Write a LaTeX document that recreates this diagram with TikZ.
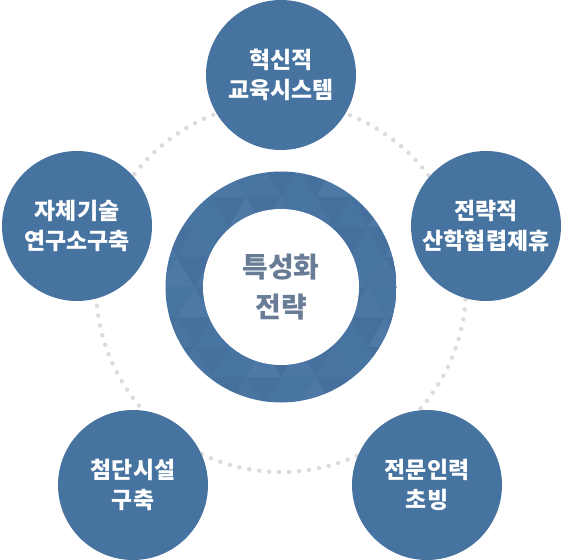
\documentclass[tikz,border=0pt]{standalone}
\usepackage{fontspec}
\setmainfont{Noto Sans CJK KR}
\usetikzlibrary{positioning}

\definecolor{satblue}{RGB}{71,115,160}
\definecolor{ringblue}{RGB}{72,116,162}
\definecolor{coretext}{RGB}{104,124,150}
\definecolor{dotgray}{RGB}{220,220,220}

\begin{document}
\begin{tikzpicture}[
    x=1bp, y=-1bp,
    goal/.style={circle, fill=satblue, minimum size=150bp, inner sep=0pt, align=center,
                 text=white, font=\bfseries\fontsize{23}{30}\selectfont},
    core/.style={circle, fill=white, minimum size=156bp, inner sep=0pt, align=center,
                 text=coretext, font=\bfseries\fontsize{28}{40}\selectfont},
    dotring/.style={draw=dotgray, line width=4.5bp, line cap=round, dash pattern=on 0bp off 10bp}
]
\useasboundingbox (0,0) rectangle (561,560);
\coordinate (mid) at (281,287);

% --- Dotted ring behind everything ---
\draw[dotring] (mid) circle (185bp);

% --- Ring with triangle pattern ---
\begin{scope}
    \clip (mid) circle (115.5bp);
    \fill[ringblue] (mid) circle (116bp);
    \foreach \j in {-4,...,3} {
        \foreach \i in {-5,...,4} {
            \pgfmathsetmacro\xo{281 + \i*34.64 + mod(\j+10,2)*17.32}
            \pgfmathsetmacro\yo{287 + \j*30}
            \pgfmathtruncatemacro\up{mod(3*\i+5*\j+40,4)}
            \pgfmathtruncatemacro\dn{mod(2*\i+7*\j+41,3)}
            \fill[white, fill opacity=0.012*\up]
                (\xo,\yo+30) -- (\xo+34.64,\yo+30) -- (\xo+17.32,\yo) -- cycle;
            \fill[black, fill opacity=0.018*\dn]
                (\xo+17.32,\yo) -- (\xo+51.96,\yo) -- (\xo+34.64,\yo+30) -- cycle;
        }
    }
\end{scope}
\node[core] (core) at (mid) {특성화\\전략};

% --- Five goals ---
\node[goal] (edu) at (281,75) {혁신적\\교육시스템};
\node[goal] (coop) at (486,226) {전략적\\산학협렵제휴};
\node[goal] (talent) at (427,485) {전문인력\\초빙};
\node[goal] (facility) at (133,485) {첨단시설\\구축};
\node[goal] (lab) at (77,226) {자체기술\\연구소구축};

\end{tikzpicture}
\end{document}
